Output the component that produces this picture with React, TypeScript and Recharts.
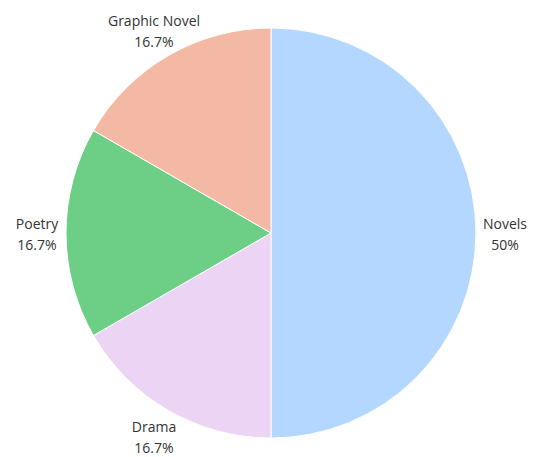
import React from 'react';
import { PieChart, Pie, Cell } from 'recharts';

const categories = ['Novels', 'Drama', 'Poetry', 'Graphic Novel'];
const values = [3, 1, 1, 1];
const percentLabels = ['50%', '16.7%', '16.7%', '16.7%'];
const colors = ['#b3d7ff', '#ecd4f5', '#6dcf85', '#f4b9a5'];

const data = categories.map((name, i) => ({ name, value: values[i], pct: percentLabels[i] }));

const RAD = Math.PI / 180;

const renderLabel = (props: any) => {
  const { cx, cy, midAngle, outerRadius, index } = props;
  const r = outerRadius + 29;
  const x = cx + r * Math.cos(-midAngle * RAD);
  const y = cy + r * Math.sin(-midAngle * RAD);
  return (
    <text
      x={x}
      y={y}
      textAnchor="middle"
      fill="#333"
      fontSize={14}
      fontFamily="'Open Sans', sans-serif"
    >
      <tspan x={x} dy={-4}>{data[index].name}</tspan>
      <tspan x={x} dy={21}>{data[index].pct}</tspan>
    </text>
  );
};

export default function App() {
  return (
    <PieChart width={529} height={449} margin={{ top: 0, right: 0, bottom: 0, left: 0 }}>
      <Pie
        data={data}
        dataKey="value"
        nameKey="name"
        cx={263}
        cy={225}
        outerRadius={205}
        startAngle={90}
        endAngle={-270}
        stroke="#ffffff"
        strokeWidth={1}
        label={renderLabel}
        labelLine={false}
        isAnimationActive={false}
      >
        {data.map((d, i) => (
          <Cell key={d.name} fill={colors[i]} />
        ))}
      </Pie>
    </PieChart>
  );
}
